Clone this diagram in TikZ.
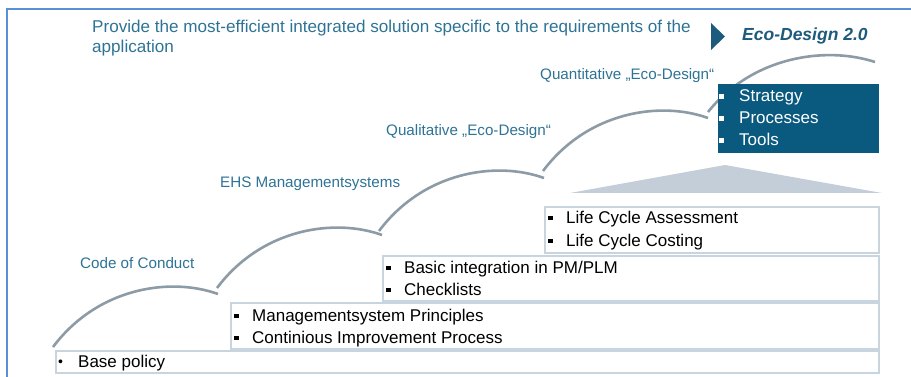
\documentclass[tikz,border=0pt]{standalone}
\usepackage{fontspec}
\setmainfont{Liberation Sans}
\definecolor{frameblue}{HTML}{5D8FD6}
\definecolor{boxline}{HTML}{C8D4DE}
\definecolor{arcgray}{HTML}{8C9BA6}
\definecolor{labblue}{HTML}{2E7395}
\definecolor{darkbox}{HTML}{0A5A80}
\definecolor{trigray}{HTML}{C3CED8}
\definecolor{markblue}{HTML}{1D5A7E}
\newcommand\sqb[1][18pt]{\makebox[#1][l]{\raisebox{3pt}{\rule{4.5pt}{4.5pt}}}}
\begin{document}
\begin{tikzpicture}[x=1pt,y=-1pt,
  box/.style={draw=boxline, line width=1.6pt, fill=white, anchor=north west, inner sep=0pt},
  item/.style={anchor=base west, inner sep=0pt, font=\fontsize{17}{20}\selectfont},
  lab/.style={anchor=base west, inner sep=0pt, text=labblue, font=\fontsize{15.2}{18}\selectfont},
  arcline/.style={draw=arcgray, line width=2.6pt},
  titletext/.style={anchor=base west, inner sep=0pt, text=labblue, font=\fontsize{17.1}{20}\selectfont}]
\useasboundingbox (0,0) rectangle (911,377);
% frame
\draw[frameblue, line width=2pt] (7,377) -- (7,9) -- (911,9);
% arcs
\coordinate (a1s) at (53,347);  \coordinate (a1e) at (218,294);
\coordinate (a2s) at (217,288); \coordinate (a2e) at (382,235);
\coordinate (a3s) at (379,231); \coordinate (a3e) at (544,178);
\coordinate (a4s) at (543,171); \coordinate (a4e) at (708,118);
\coordinate (a5s) at (708,112); \coordinate (a5e) at (875,62);
\draw[arcline] (a1s) .. controls (98,287) and (171,277) .. (a1e);
\draw[arcline] (a2s) .. controls (262,228) and (335,218) .. (a2e);
\draw[arcline] (a3s) .. controls (424,171) and (497,161) .. (a3e);
\draw[arcline] (a4s) .. controls (588,111) and (661,101) .. (a4e);
\draw[arcline] (a5s) .. controls (753,56) and (826,46) .. (a5e);
% triangle
\fill[trigray] (725,165) -- (882,193) -- (570,193) -- cycle;
% boxes
\node[box, minimum width=823pt, minimum height=22pt] (b1) at (55,350) {};
\node[box, minimum width=648pt, minimum height=46pt] (b2) at (230,302) {};
\node[box, minimum width=496pt, minimum height=45pt] (b3) at (382,255) {};
\node[box, minimum width=334pt, minimum height=46pt] (b4) at (544,206) {};
\node[box, draw=none, fill=darkbox, minimum width=161pt, minimum height=69pt] (b5) at (717,83) {};
% box texts
\node[item] (t1) at (58,367) {\makebox[20pt][l]{\raisebox{0.5pt}{\fontsize{14}{14}\selectfont •}}Base policy};
\node[item] (t2a) at (234,321) {\sqb Managementsystem Principles};
\node[item] (t2b) at (234,343) {\sqb Continious Improvement Process};
\node[item] (t3a) at (386,273) {\sqb Basic integration in PM/PLM};
\node[item] (t3b) at (386,295) {\sqb Checklists};
\node[item] (t4a) at (548,223) {\sqb Life Cycle Assessment};
\node[item] (t4b) at (548,246) {\sqb Life Cycle Costing};
\node[item, text=white] (t5a) at (719,102) {\sqb[20pt]Strategy};
\node[item, text=white] (t5b) at (719,124) {\sqb[20pt]Processes};
\node[item, text=white] (t5c) at (719,146) {\sqb[20pt]Tools};
% stage labels
\node[lab] (l1) at (80,268) {Code of Conduct};
\node[lab] (l2) at (220,188) {EHS Managementsystems};
\node[lab] (l3) at (386,136) {Qualitative „Eco-Design“};
\node[lab] (l4) at (540,80) {Quantitative „Eco-Design“};
% title
\node[titletext] (ti1) at (92,33) {Provide the most-efficient integrated solution specific to the requirements of the};
\node[titletext] (ti2) at (92,53) {application};
\fill[markblue] (711,23) -- (725,36.5) -- (711,50) -- cycle;
\node[anchor=base west, inner sep=0pt, text=markblue, font=\fontsize{17.5}{20}\selectfont\bfseries\itshape] (eco) at (742,41) {Eco-Design 2.0};
\end{tikzpicture}
\end{document}
